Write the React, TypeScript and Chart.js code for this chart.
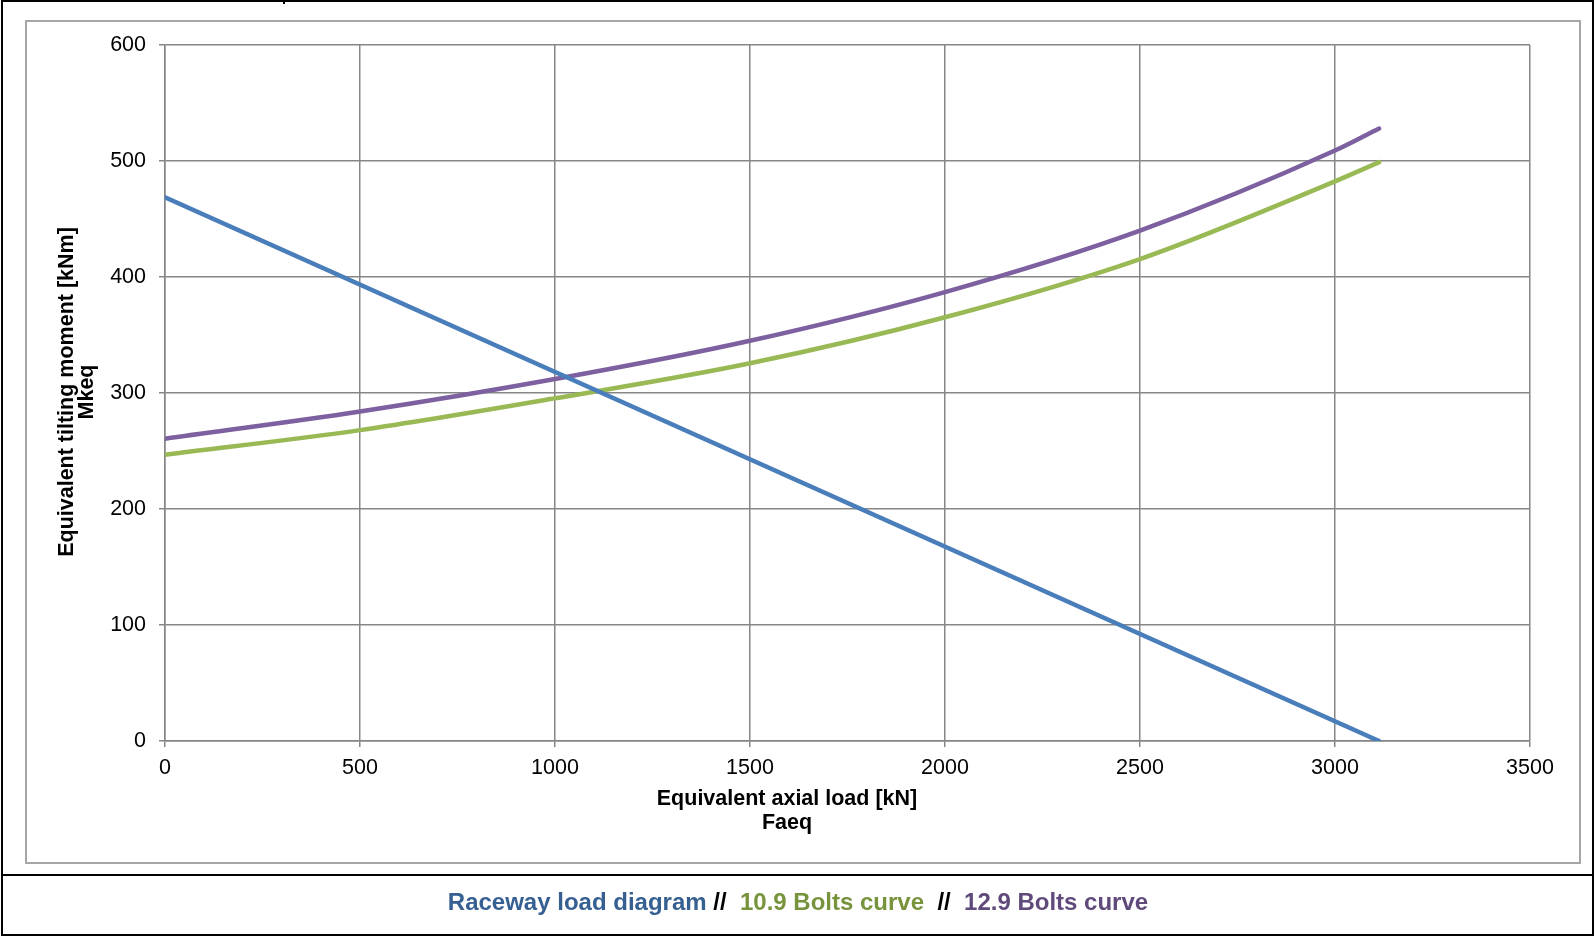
import React, { useEffect, useRef } from "react";
import { Chart, registerables } from "chart.js";

Chart.register(...registerables);

// ---- Data ----
const raceway_x = [0, 3113];
const raceway_y = [468.7, 0];

const bolts109_x = [0, 500, 1000, 1500, 2000, 2500, 3000, 3113];
const bolts109_y = [246.8, 268, 295.4, 325.6, 365.3, 415.5, 482.5, 499];

const bolts129_x = [0, 500, 1000, 1500, 2000, 2500, 3000, 3113];
const bolts129_y = [260.6, 284, 312, 345, 387, 440, 509, 528];

const xTitleLines = ["Equivalent axial load [kN]", "Faeq"];
const yTitleLines = ["Equivalent tilting moment [kNm]", "Mkeq"];

const X_MIN = 0, X_MAX = 3500, X_STEP = 500;
const Y_MIN = 0, Y_MAX = 600, Y_STEP = 100;

const FONT = "'Liberation Sans', Arial, Helvetica, sans-serif";
const GRID = "#868686";

const toPts = (xs: number[], ys: number[]) => xs.map((x, i) => ({ x, y: ys[i] }));

const titlesPlugin = {
  id: "axisTitles",
  afterDraw(chart: any) {
    const ctx = chart.ctx;
    ctx.save();
    ctx.fillStyle = "#000";
    ctx.font = `bold 21.5px ${FONT}`;
    ctx.textAlign = "center";
    ctx.textBaseline = "alphabetic";
    ctx.fillText(xTitleLines[0], 787, 805);
    ctx.fillText(xTitleLines[1], 787, 828.5);
    ctx.translate(72.5, 392);
    ctx.rotate(-Math.PI / 2);
    ctx.fillText(yTitleLines[0], 0, 0);
    ctx.fillText(yTitleLines[1], 0, 20.5);
    ctx.restore();
  },
};

export default function App() {
  const ref = useRef<HTMLCanvasElement | null>(null);

  useEffect(() => {
    if (!ref.current) return;
    const tickFont = { family: FONT, size: 21.5 };
    const plain = (v: any) => String(v);
    const chart = new Chart(ref.current, {
      type: "scatter",
      data: {
        datasets: [
          {
            label: "Raceway load diagram",
            data: toPts(raceway_x, raceway_y),
            showLine: true,
            borderColor: "#4A7EBB",
            borderWidth: 4.5,
            pointRadius: 0,
            borderCapStyle: "round",
          },
          {
            label: "10.9 Bolts curve",
            data: toPts(bolts109_x, bolts109_y),
            showLine: true,
            borderColor: "#98B954",
            borderWidth: 4.5,
            pointRadius: 0,
            cubicInterpolationMode: "monotone",
            borderCapStyle: "round",
          },
          {
            label: "12.9 Bolts curve",
            data: toPts(bolts129_x, bolts129_y),
            showLine: true,
            borderColor: "#7D60A0",
            borderWidth: 4.5,
            pointRadius: 0,
            cubicInterpolationMode: "monotone",
            borderCapStyle: "round",
          },
        ],
      },
      options: {
        responsive: false,
        animation: false,
        devicePixelRatio: 1,
        layout: { padding: { left: 25, top: 45, right: 66, bottom: 155 } },
        plugins: {
          legend: { display: false },
          tooltip: { enabled: false },
          title: { display: false },
        },
        scales: {
          x: {
            type: "linear",
            min: X_MIN,
            max: X_MAX,
            ticks: { stepSize: X_STEP, font: tickFont, color: "#000", padding: 8, maxRotation: 0, callback: plain },
            grid: { color: GRID, lineWidth: 1.5, tickLength: 6, tickColor: GRID },
            border: { color: GRID, width: 1.5 },
            afterFit: (s: any) => { s.height = 40; },
          },
          y: {
            type: "linear",
            min: Y_MIN,
            max: Y_MAX,
            ticks: { stepSize: Y_STEP, font: tickFont, color: "#000", padding: 13, callback: plain },
            grid: { color: GRID, lineWidth: 1.5, tickLength: 6, tickColor: GRID },
            border: { color: GRID, width: 1.5 },
            afterFit: (s: any) => { s.width = 140; },
          },
        },
      } as any,
      plugins: [titlesPlugin],
    });
    return () => chart.destroy();
  }, []);

  return (
    <div style={{ position: "absolute", left: 0, top: 0, width: 1596, height: 936, background: "#fff", overflow: "hidden" }}>
      {/* outer black frame */}
      <div style={{ position: "absolute", left: 1, top: 0, width: 1589, height: 932, border: "2px solid #000" }} />
      {/* small tick at top */}
      <div style={{ position: "absolute", left: 283, top: 0, width: 1.5, height: 4, background: "#000" }} />
      {/* separator line */}
      <div style={{ position: "absolute", left: 1, top: 874, width: 1593, height: 2, background: "#000" }} />
      {/* chart area gray border */}
      <div style={{ position: "absolute", left: 25, top: 20, width: 1552, height: 840, border: "2px solid #a6a6a6" }} />
      <canvas ref={ref} width={1596} height={936} style={{ position: "absolute", left: 0, top: 0, width: 1596, height: 936 }} />
      {/* legend text */}
      <div
        style={{
          position: "absolute",
          left: 0,
          top: 890,
          width: 1596,
          textAlign: "center",
          fontFamily: FONT,
          fontWeight: "bold",
          fontSize: 24,
          lineHeight: "24px",
          whiteSpace: "pre",
        }}
      >
        <span style={{ color: "#376092" }}>Raceway load diagram</span>
        <span style={{ color: "#000" }}> //  </span>
        <span style={{ color: "#77933C" }}>10.9 Bolts curve</span>
        <span style={{ color: "#000" }}>  //  </span>
        <span style={{ color: "#604A7B" }}>12.9 Bolts curve</span>
      </div>
    </div>
  );
}
